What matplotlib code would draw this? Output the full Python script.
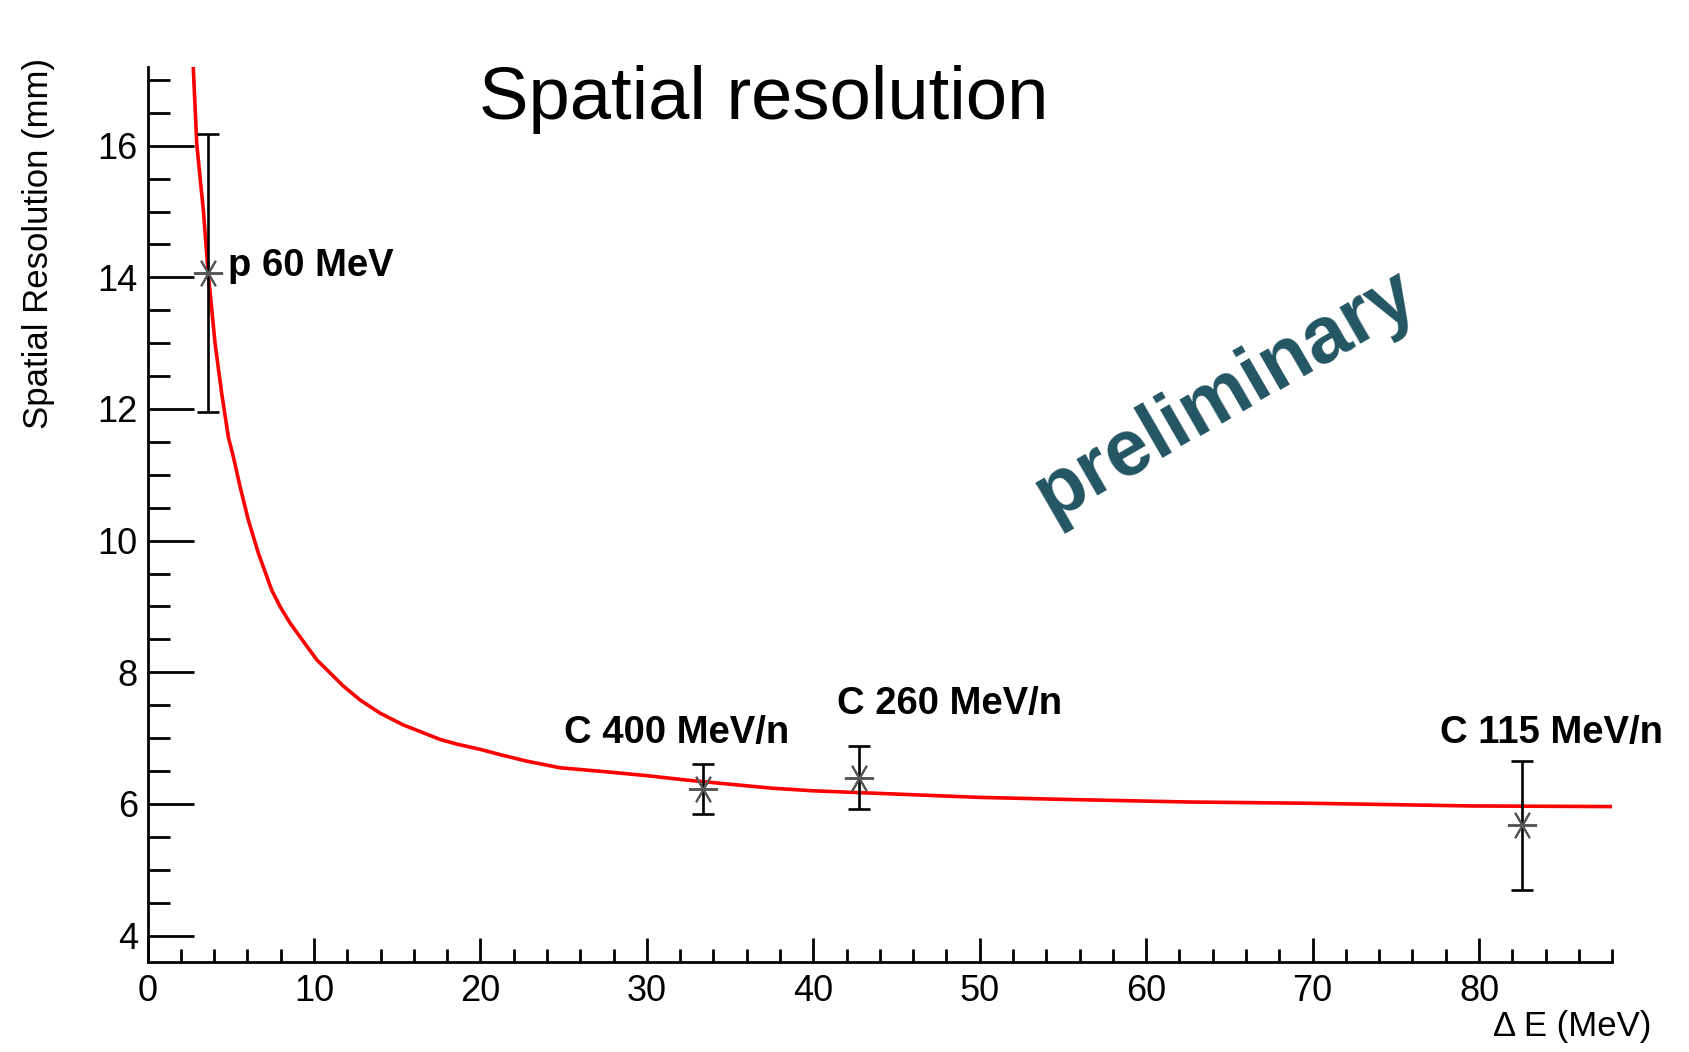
import matplotlib
matplotlib.use("Agg")
import matplotlib.pyplot as plt
from matplotlib.ticker import MultipleLocator

plt.rcParams['font.family'] = ['Liberation Sans', 'DejaVu Sans']

# measured points
beam_labels = ["p 60 MeV", "C 400 MeV/n", "C 260 MeV/n", "C 115 MeV/n"]
delta_e = [3.65, 33.37, 42.76, 82.6]
resolution = [14.07, 6.22, 6.40, 5.68]
resolution_err = [2.11, 0.38, 0.48, 0.98]

# fitted curve
fit_x = [2.75, 2.96, 3.36, 3.65, 4.06, 4.46, 4.86, 5.16, 5.56, 6.06, 6.66,
         7.06, 7.46, 7.96, 8.56, 9.36, 10.17, 10.97, 11.77, 12.77, 13.97,
         15.37, 16.78, 17.58, 18.58, 19.98, 21.18, 22.79, 24.79, 27.5, 30,
         32.5, 35, 37.5, 40, 45, 50, 55, 62.5, 70, 79.5, 88]
fit_y = [17.18, 16.02, 15.0, 14.05, 12.99, 12.23, 11.57, 11.27, 10.82, 10.31,
         9.81, 9.53, 9.25, 9.0, 8.75, 8.47, 8.19, 7.99, 7.79, 7.58, 7.38,
         7.20, 7.06, 6.98, 6.91, 6.83, 6.75, 6.65, 6.55, 6.49, 6.43,
         6.36, 6.30, 6.24, 6.20, 6.15, 6.10, 6.07, 6.03, 6.01, 5.97, 5.96]

# label anchor positions (data coords)
label_x = [4.84, 31.8, 48.17, 84.34]
label_y = [14.02, 6.92, 7.36, 6.92]
label_ha = ["left", "center", "center", "center"]

fig = plt.figure(figsize=(16.9, 10.52), dpi=100)
ax = fig.add_axes([0.0873, 0.0856, 0.8666, 0.851])

ax.plot(fit_x, fit_y, color="#ff0000", lw=2.6, zorder=2)
ax.errorbar(delta_e, resolution, yerr=resolution_err, fmt="none",
            ecolor="black", elinewidth=1.9, capsize=8, capthick=1.9, zorder=3)
ax.plot(delta_e, resolution, ls="none", marker=(6, 2, 90), ms=21,
        mec="#555555", mew=1.4, zorder=4)

for txt, x, y, ha in zip(beam_labels, label_x, label_y, label_ha):
    ax.text(x, y, txt, ha=ha, va="baseline", fontsize=27.5, fontweight="bold")

ax.set_xlim(0, 88)
ax.set_ylim(3.6, 17.2)

ax.xaxis.set_major_locator(MultipleLocator(10))
ax.xaxis.set_minor_locator(MultipleLocator(2))
ax.yaxis.set_major_locator(MultipleLocator(2))
ax.yaxis.set_minor_locator(MultipleLocator(0.5))

for s in ["top", "right"]:
    ax.spines[s].set_visible(False)
for s in ["left", "bottom"]:
    ax.spines[s].set_linewidth(2.0)

ax.tick_params(axis="y", which="major", direction="in", length=33, width=2.0,
               labelsize=26, pad=7)
ax.tick_params(axis="y", which="minor", direction="in", length=15.5, width=2.0)
ax.tick_params(axis="x", which="major", direction="in", length=17, width=2.0,
               labelsize=26, pad=9)
ax.tick_params(axis="x", which="minor", direction="in", length=9.5, width=2.0)

ax.set_ylabel("Spatial Resolution (mm)", fontsize=25, loc="top")
ax.yaxis.set_label_coords(-0.0632, 1.0097)
ax.set_xlabel("\u0394 E (MeV)", fontsize=25, loc="right")
ax.xaxis.set_label_coords(1.027, -0.0536)

fig.text(0.452, 0.887, "Spatial resolution", fontsize=53.5, ha="center",
         va="baseline")
fig.text(0.7254, 0.625, "preliminary", fontsize=57, fontweight="bold",
         color="#235563", rotation=30, ha="center", va="center")

fig.savefig("out.png", dpi=100)
